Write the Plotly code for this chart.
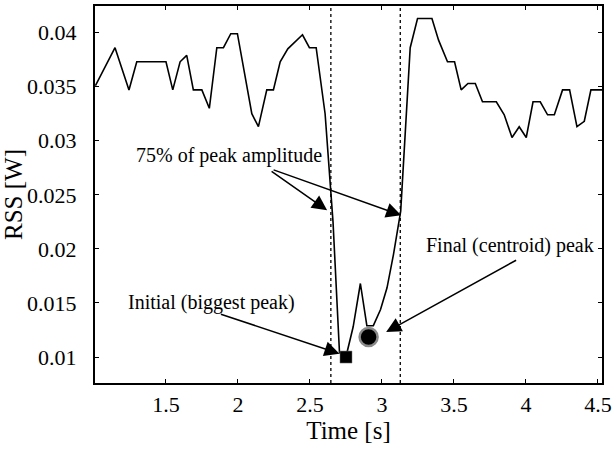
import plotly.graph_objects as go

# Signal samples (time in s, RSS in W)
time_s = [1.01, 1.146, 1.243, 1.297, 1.50, 1.547, 1.598, 1.644, 1.690, 1.749,
          1.801, 1.853, 1.899, 1.950, 1.996, 2.096, 2.142, 2.200, 2.246, 2.293,
          2.346, 2.448, 2.496, 2.543, 2.605, 2.66, 2.705, 2.755, 2.80, 2.85,
          2.895, 2.94, 2.99, 3.035, 3.08, 3.13, 3.196, 3.247, 3.347, 3.393,
          3.455, 3.504, 3.550, 3.597, 3.648, 3.698, 3.794, 3.849, 3.903, 3.953,
          4.002, 4.049, 4.099, 4.150, 4.197, 4.254, 4.303, 4.354, 4.405, 4.451, 4.528]
rss_w = [0.0351, 0.0386, 0.0347, 0.0373, 0.0373, 0.0347, 0.0373, 0.0379, 0.0347, 0.0347,
         0.0330, 0.0386, 0.0386, 0.0399, 0.0399, 0.0325, 0.0313, 0.0347, 0.0347, 0.0373,
         0.0385, 0.0398, 0.0386, 0.0386, 0.0325, 0.0225, 0.0104, 0.0103, 0.0128, 0.0168,
         0.0129, 0.0129, 0.0144, 0.0164, 0.0195, 0.0235, 0.0386, 0.0413, 0.0413, 0.0393,
         0.0373, 0.0373, 0.0347, 0.0353, 0.0353, 0.0336, 0.0336, 0.0324, 0.0303, 0.0313,
         0.0303, 0.0336, 0.0336, 0.0324, 0.0324, 0.0347, 0.0347, 0.0313, 0.0318, 0.0347, 0.0347]

# 75% of peak amplitude thresholds (vertical dotted lines)
threshold_times = [2.645, 3.127]

# Detected peaks
initial_peak = (2.75, 0.0100)
final_peak = (2.907, 0.01185)

x_ticks = [1.5, 2, 2.5, 3, 3.5, 4, 4.5]
x_tick_labels = ["1.5", "2", "2.5", "3", "3.5", "4", "4.5"]
y_ticks = [0.01, 0.015, 0.02, 0.025, 0.03, 0.035, 0.04]
y_tick_labels = ["0.01", "0.015", "0.02", "0.025", "0.03", "0.035", "0.04"]

# Annotation texts (text position) and arrows (tail -> head)
labels = [
    ("75% of peak amplitude", 1.938, 0.02865),
    ("Initial (biggest peak)", 1.813, 0.01509),
    ("Final (centroid) peak", 3.891, 0.02033),
]
arrows = [
    (2.223, 0.02727, 2.619, 0.02357),
    (2.237, 0.02736, 3.133, 0.02310),
    (1.871, 0.01401, 2.705, 0.01031),
    (3.942, 0.01903, 3.029, 0.01231),
]

FONT = "Liberation Serif, Times New Roman, serif"

fig = go.Figure()
fig.add_trace(go.Scatter(x=time_s, y=rss_w, mode="lines",
                         line=dict(color="black", width=1.6), showlegend=False))
fig.add_trace(go.Scatter(x=[initial_peak[0]], y=[initial_peak[1]], mode="markers",
                         marker=dict(symbol="square", size=12, color="black",
                                     line=dict(color="#777777", width=0.5)),
                         showlegend=False))
fig.add_trace(go.Scatter(x=[final_peak[0]], y=[final_peak[1]], mode="markers",
                         marker=dict(symbol="circle", size=18, color="black",
                                     line=dict(color="#8a8a8a", width=2.5)),
                         showlegend=False))

for tx in threshold_times:
    fig.add_vline(x=tx, line=dict(color="black", width=1.3, dash="dot"))

for text, x, y in labels:
    fig.add_annotation(x=x, y=y, text=text, showarrow=False,
                       font=dict(family=FONT, size=20, color="black"))

for x0, y0, x1, y1 in arrows:
    fig.add_annotation(x=x1, y=y1, ax=x0, ay=y0, axref="x", ayref="y",
                       text="", showarrow=True, arrowhead=2, arrowsize=2,
                       arrowwidth=1.5, arrowcolor="black", standoff=0)

axis_common = dict(showline=True, linecolor="black", linewidth=2, mirror="allticks",
                   ticks="inside", ticklen=4, tickwidth=1, tickcolor="black",
                   showgrid=False, zeroline=False, automargin=False,
                   ticklabeloverflow="allow",
                   tickfont=dict(family=FONT, size=22, color="black"))

fig.update_layout(
    template="none",
    width=613, height=452,
    margin=dict(l=95, r=11, t=6, b=69),
    paper_bgcolor="white", plot_bgcolor="white",
    xaxis=dict(range=[1.007, 4.528], tickvals=x_ticks, ticktext=x_tick_labels,
               ticklabelstandoff=1,
               title=dict(text="Time [s]", font=dict(family=FONT, size=25, color="black"),
                          standoff=4),
               **axis_common),
    yaxis=dict(range=[0.0076, 0.04246], tickvals=y_ticks, ticktext=y_tick_labels,
               ticklabelstandoff=12,
               title=dict(text="RSS [W]", font=dict(family=FONT, size=25, color="black"),
                          standoff=2),
               **axis_common),
)

fig.write_html("out.html", config={"displayModeBar": False},
               post_script="document.body.style.margin='0';document.body.style.overflow='hidden';")
